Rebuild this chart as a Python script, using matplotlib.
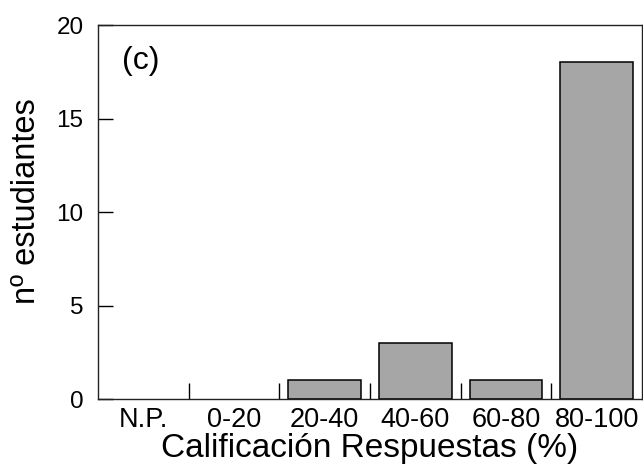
import numpy as np
import matplotlib
matplotlib.use("Agg")
import matplotlib.pyplot as plt

plt.rcParams['font.family'] = ['Liberation Sans', 'DejaVu Sans']

# categories and counts
categories = ['N.P.', '0-20', '20-40', '40-60', '60-80', '80-100']
n_students = [0, 0, 1, 3, 1, 18]
y_ticks = [0, 5, 10, 15, 20]

fig = plt.figure(figsize=(6.43, 4.65), dpi=100)
ax = fig.add_axes([0.1524, 0.1419, 0.8460, 0.8043])

x = np.arange(len(categories))
vals = np.array(n_students, dtype=float)
# empty bins are not drawn at all in the original
shown = vals > 0
ax.bar(x[shown], vals[shown], width=0.8, color='#a6a6a6', edgecolor='black', linewidth=1.1)

ax.set_xlim(-0.5, len(categories) - 0.5)
ax.set_ylim(0, 20)

# category labels at centers, tick marks at the bin boundaries
ax.set_xticks(x)
ax.set_xticklabels(categories, fontsize=19.5)
ax.set_xticks(np.arange(0.5, len(categories) - 0.5), minor=True)
ax.tick_params(axis='x', which='major', length=0, pad=6)
ax.tick_params(axis='x', which='minor', direction='in', length=11.5, width=1.0)

ax.set_yticks(y_ticks)
ax.tick_params(axis='y', direction='in', length=10.8, width=1.0, labelsize=17.5, pad=10.5)

for s in ax.spines.values():
    s.set_linewidth(1.0)
    s.set_color('#222222')

ax.set_xlabel('Calificación Respuestas (%)', fontsize=24, labelpad=0)
ax.set_ylabel('nº estudiantes', fontsize=23.5, labelpad=10)
ax.yaxis.label.set_y(0.53)

ax.text(0.045, 0.905, '(c)', transform=ax.transAxes, fontsize=23, va='center', ha='left')

fig.savefig('out.png', dpi=100)
